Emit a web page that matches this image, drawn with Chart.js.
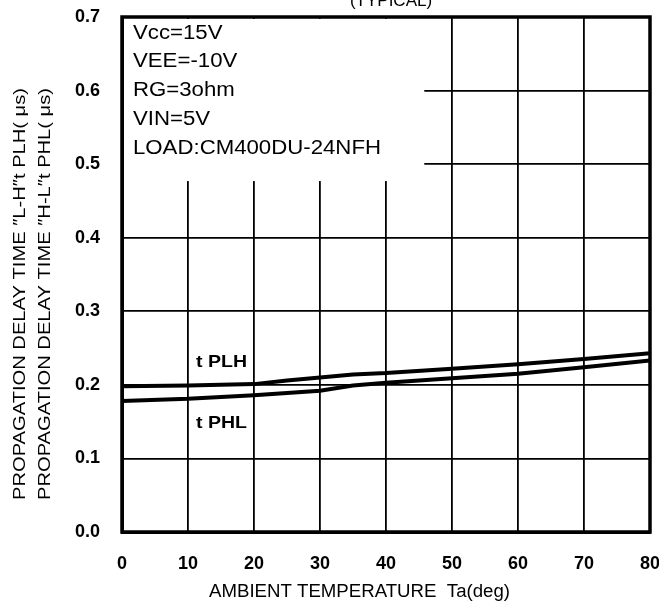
<!DOCTYPE html>
<html>
<head>
<meta charset="utf-8">
<script src="https://cdn.jsdelivr.net/npm/chart.js@4"></script>
<style>
  html, body { margin: 0; padding: 0; background: #fff; overflow: hidden; }
  #wrap { width: 659px; height: 601px; }
  canvas { display: block; }
</style>
</head>
<body>
<div id="wrap"><canvas id="delayChart" width="659" height="601"></canvas></div>
<script>
// data
const temps = [0, 10, 20, 25, 30, 35, 40, 50, 60, 70, 80];
const tPLH = [0.198, 0.199, 0.201, 0.206, 0.210, 0.214, 0.216, 0.222, 0.228, 0.235, 0.243];
const tPHL = [0.178, 0.181, 0.186, 0.189, 0.192, 0.199, 0.203, 0.209, 0.215, 0.224, 0.233];
const xTicks = [0, 10, 20, 30, 40, 50, 60, 70, 80];
const yTicks = [0.0, 0.1, 0.2, 0.3, 0.4, 0.5, 0.6, 0.7];
const noteLines = ['Vcc=15V', 'VEE=-10V', 'RG=3ohm', 'VIN=5V', 'LOAD:CM400DU-24NFH'];
const seriesNames = ['t PLH', 't PHL'];
const yTitleLines = ['PROPAGATION DELAY TIME \u2033L-H\u2033t PLH( \u03bcs)', 'PROPAGATION DELAY TIME \u2033H-L\u2033t PHL( \u03bcs)'];
const xTitle = 'AMBIENT TEMPERATURE  Ta(deg)';
const chartTitle = '(TYPICAL)';

const FONT = '"Liberation Sans", Arial, sans-serif';

function toPoints(xs, ys) {
  return xs.map((x, i) => ({ x: x, y: ys[i] }));
}

// draws text squeezed/stretched to a given width
function fitText(ctx, text, x, y, width) {
  const w = ctx.measureText(text).width;
  ctx.save();
  ctx.translate(x, y);
  ctx.scale(width / w, 1);
  ctx.fillText(text, 0, 0);
  ctx.restore();
}

//white box with the test conditions, drawn over the grid
const notePlugin = {
  id: 'notes',
  beforeDatasetsDraw(chart) {
    const { ctx, chartArea, scales } = chart;
    const right = scales.x.getPixelForValue(45.8);
    const bottom = scales.y.getPixelForValue(0.477);
    ctx.save();
    ctx.fillStyle = '#fff';
    ctx.fillRect(chartArea.left + 2, chartArea.top + 2, right - chartArea.left - 2, bottom - chartArea.top - 2);

    ctx.fillStyle = '#000';
    ctx.textBaseline = 'middle';
    ctx.textAlign = 'left';
    ctx.font = '20px ' + FONT;
    const sx = 248 / ctx.measureText(noteLines[4]).width;
    noteLines.forEach((line, i) => {
      ctx.save();
      ctx.translate(chartArea.left + 11, chartArea.top + 16 + i * 28.8);
      ctx.scale(sx, 1);
      ctx.fillText(line, 0, 0);
      ctx.restore();
    });
    ctx.restore();
  },
  afterDraw(chart) {
    const { ctx, chartArea, scales } = chart;
    ctx.save();
    // thick frame
    ctx.strokeStyle = '#000';
    ctx.lineWidth = 3.5;
    ctx.strokeRect(chartArea.left, chartArea.top, chartArea.right - chartArea.left, chartArea.bottom - chartArea.top);

    ctx.fillStyle = '#000';
    // series labels
    ctx.font = 'bold 17px ' + FONT;
    ctx.textAlign = 'left';
    ctx.textBaseline = 'middle';
    fitText(ctx, seriesNames[0], 196, scales.y.getPixelForValue(0.23), 51);
    fitText(ctx, seriesNames[1], 196, scales.y.getPixelForValue(0.148), 51);

    // cut-off title at the very top
    ctx.font = '17px ' + FONT;
    ctx.textAlign = 'center';
    ctx.textBaseline = 'alphabetic';
    ctx.fillText(chartTitle, 391, 6);

    // x title
    ctx.textAlign = 'left';
    ctx.font = '18px ' + FONT;
    ctx.textBaseline = 'middle';
    fitText(ctx, xTitle, 209, 592, 301);

    // y title, two rotated lines
    ctx.save();
    ctx.rotate(-Math.PI / 2);
    ctx.font = '17px ' + FONT;
    yTitleLines.forEach((line, i) => {
      fitText(ctx, line, -500, 20 + i * 25, 412);
    });
    ctx.restore();
    ctx.restore();
  }
};

const ctx = document.getElementById('delayChart').getContext('2d');
new Chart(ctx, {
  type: 'line',
  data: {
    datasets: [
      {
        label: seriesNames[0],
        data: toPoints(temps, tPLH),
        borderColor: '#000',
        borderWidth: 4,
        pointRadius: 0,
        tension: 0
      },
      {
        label: seriesNames[1],
        data: toPoints(temps, tPHL),
        borderColor: '#000',
        borderWidth: 4,
        pointRadius: 0,
        tension: 0
      }
    ]
  },
  options: {
    responsive: false,
    animation: false,
    devicePixelRatio: 1,
    layout: { padding: 0 },
    plugins: {
      legend: { display: false },
      tooltip: { enabled: false }
    },
    scales: {
      x: {
        type: 'linear',
        min: xTicks[0],
        max: xTicks[xTicks.length - 1],
        afterBuildTicks: (axis) => { axis.ticks = xTicks.map(v => ({ value: v })); },
        afterFit: (axis) => {
          axis.height = 69;
          axis.paddingLeft = 0;
          axis.paddingRight = 9;
        },
        ticks: {
          color: '#000',
          font: { family: FONT, size: 18, weight: 'bold' },
          padding: 21,
          maxRotation: 0
        },
        grid: { color: '#000', lineWidth: 1.8, drawTicks: false },
        border: { color: '#000', width: 3 }
      },
      y: {
        min: yTicks[0],
        max: yTicks[yTicks.length - 1],
        afterBuildTicks: (axis) => { axis.ticks = yTicks.map(v => ({ value: v })); },
        afterFit: (axis) => {
          axis.width = 122;
          axis.paddingTop = 17;
          axis.paddingBottom = 0;
        },
        ticks: {
          color: '#000',
          font: { family: FONT, size: 18, weight: 'bold' },
          padding: 22,
          callback: (v) => Number(v).toFixed(1)
        },
        grid: { color: '#000', lineWidth: 1.8, drawTicks: false },
        border: { color: '#000', width: 3 }
      }
    }
  },
  plugins: [notePlugin]
});
</script>
</body>
</html>
